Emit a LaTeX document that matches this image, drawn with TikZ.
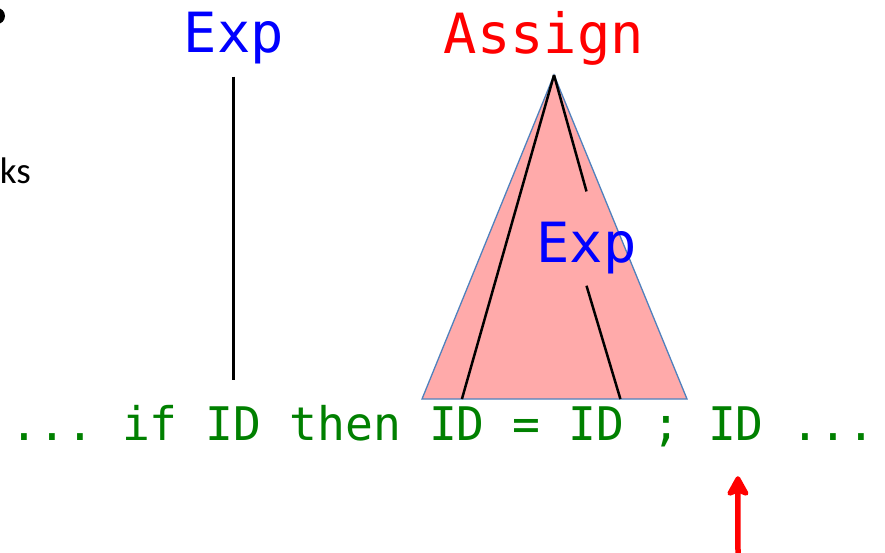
\documentclass[tikz,border=0pt]{standalone}
\usepackage{fontspec}
\setmainfont{Carlito}
\newfontfamily\codefont{DejaVu Sans Mono}
\usetikzlibrary{arrows.meta}
\definecolor{codegreen}{RGB}{0,128,0}
\definecolor{treefill}{RGB}{255,170,170}
\definecolor{treeline}{RGB}{79,129,189}

\begin{document}
\begin{tikzpicture}[
  x=1pt, y=-1pt,
  code/.style={font=\codefont\fontsize{46.3pt}{50pt}\selectfont,
               text=codegreen, inner sep=0pt, anchor=base},
  nonterm/.style={font=\codefont\fontsize{55.4pt}{60pt}\selectfont,
                  inner sep=0pt, anchor=base},
  edge/.style={line width=2.5pt},
  subtree/.style={fill=treefill, draw=treeline, line width=1.3pt},
  pointer/.style={-{Stealth[round, inset=5pt, length=24pt, width=26pt]},
                  red, line width=5.5pt}
]
  \useasboundingbox (0,0) rectangle (885,552);

  \node[circle, fill, minimum size=16pt, inner sep=0pt] (dot) at (-3,16) {};
  \node[font=\fontsize{37pt}{40pt}\selectfont, anchor=base east, inner sep=0pt]
       (ks) at (31,183) {ks};

  \node[nonterm, text=blue] (expL) at (233.7,52) {Exp};
  \node[nonterm, text=red] (assign) at (544,53) {Assign};

  \coordinate (apex) at (554,75);
  \coordinate (baseL) at (422,399);
  \coordinate (baseR) at (687,399);
  \filldraw[subtree] (apex) -- (baseL) -- (baseR) -- cycle;

  \node[nonterm, text=blue] (expR) at (586.5,262) {Exp};

  \node[code] (dotsA) at (52.35,440) {...};
  \node[code] (kwif) at (150,440) {if};
  \node[code] (idA) at (233.7,440) {ID};
  \node[code] (kwthen) at (345.3,440) {then};
  \node[code] (idB) at (456.9,440) {ID};
  \node[code] (eq) at (526.65,440) {=};
  \node[code] (idC) at (596.4,440) {ID};
  \node[code] (semi) at (666.15,440) {;};
  \node[code] (idD) at (735.9,440) {ID};
  \node[code] (dotsB) at (833.55,440) {...};

  \draw[edge] ([yshift=-13pt]expL.south) -- ([yshift=26pt]idA.north);
  \draw[edge] (apex) -- ([xshift=5pt, yshift=7pt]idB.north);
  \draw[edge] (apex) -- ([yshift=30pt]expR.north);
  \draw[edge] ([yshift=-12pt]expR.south) -- ([xshift=24pt, yshift=7pt]idC.north);

  \coordinate (foot) at (738,560);
  \draw[pointer] (foot) -- ([xshift=2pt, yshift=-36pt]idD.south);
\end{tikzpicture}
\end{document}
